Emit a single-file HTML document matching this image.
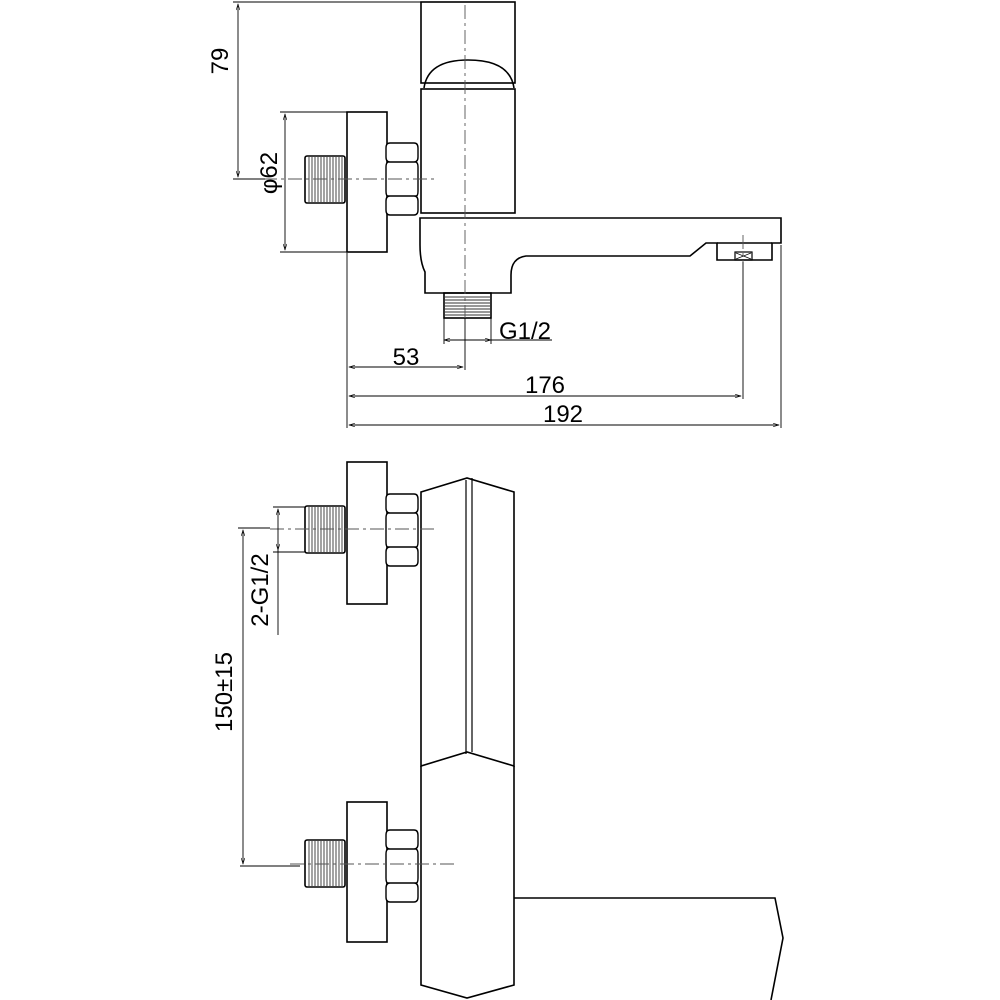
<!DOCTYPE html>
<html><head><meta charset="utf-8"><style>html,body{margin:0;padding:0;background:#fff}svg{display:block}text{font-family:"Liberation Sans",sans-serif;fill:#000}</style></head><body>
<svg width="1000" height="1000" viewBox="0 0 1000 1000" xmlns="http://www.w3.org/2000/svg">
<defs>
<marker id="a" viewBox="0 0 10 6" refX="10" refY="3" markerWidth="8" markerHeight="4" orient="auto-start-reverse"><path d="M0,0 L10,3 L0,6" fill="none" stroke="#000" stroke-width="1"/></marker>
<g id="thread">
<rect x="0" y="0" width="40" height="47" fill="none" stroke="#000" stroke-width="1.6" rx="2"/>
<path d="M4,1V46M7,1V46M10,1V46M13,1V46M16,1V46M19,1V46M22,1V46M25,1V46M28,1V46M31,1V46M34,1V46M37,1V46" stroke="#333" stroke-width="0.9"/>
</g>
<g id="nut">
<path d="M4,0 H28 Q32,0 32,5 V14 Q32,19 28,19 H4 Q0,19 0,14 V5 Q0,0 4,0Z M2,19 H30 Q32,20 32,24 V48 Q32,53 30,53 H2 Q0,53 0,48 V24 Q0,20 2,19Z M4,53 H28 Q32,53 32,58 V67 Q32,72 28,72 H4 Q0,72 0,67 V58 Q0,53 4,53Z" fill="#fff" stroke="#000" stroke-width="1.4"/>
</g>
</defs>
<g fill="none" stroke="#000" stroke-width="1.6">
<rect x="421" y="2" width="94" height="81" fill="#fff"/>
<path d="M424,88 Q428,60 468,60 Q510,60 514,88"/>
<rect x="421" y="89" width="94" height="124" fill="#fff"/>
<path d="M420,218 H781 V243 H772 V260 H717 V243 H706 L690,256 H526 Q511,258 511,275 V293 H425 V272 Q420,262 420,245 Z"/>
<path d="M717,243 H772"/>
<rect x="735" y="252" width="17" height="8" stroke-width="1.2"/>
<path d="M736,253 L751,259 M736,259 L751,253" stroke-width="0.7"/>
<rect x="347" y="112" width="40" height="140" fill="#fff"/>
<use href="#nut" x="386" y="143"/>
<use href="#thread" x="305" y="156"/>
<g transform="translate(444,293)">
<rect x="0" y="0" width="47" height="25" stroke-width="1.6"/>
<path d="M1,4H46M1,7H46M1,10H46M1,13H46M1,16H46M1,19H46M1,22H46" stroke-width="0.9" stroke="#333"/>
</g>
<path d="M421,492 L467,478 L514,492 V766 L467,752 L421,766 Z" fill="#fff"/>
<path d="M421,766 V985 L467,998 L514,985 V766"/>
<path d="M466,480 V754 M472,478 V752" stroke-width="1.2"/>
<path d="M514,898 H775 L783,938 L771,1000"/>
<rect x="347" y="462" width="40" height="142" fill="#fff"/>
<use href="#nut" x="386" y="494"/>
<use href="#thread" x="305" y="506"/>
<rect x="347" y="802" width="40" height="140" fill="#fff"/>
<use href="#nut" x="386" y="830"/>
<use href="#thread" x="305" y="840"/>
</g>
<g stroke="#555" stroke-width="0.9" fill="none" stroke-dasharray="14,4,3,4">
<path d="M465,5 V318"/>
<path d="M238,179 H436"/>
<path d="M743,235 V262"/>
<path d="M270,529 H436"/>
<path d="M290,864 H455"/>
</g>
<g stroke="#000" stroke-width="0.9" fill="none">
<path d="M233,2 H421 M233,179 H265"/>
<path d="M238,4 V177" marker-start="url(#a)" marker-end="url(#a)"/>
<path d="M280,112 H347 M280,252 H347"/>
<path d="M285,114 V250" marker-start="url(#a)" marker-end="url(#a)"/>
<path d="M347,253 V428 M743,262 V399 M781,245 V428 M465,318 V370 M444,318 V344 M491,318 V344"/>
<path d="M444,340 H491" marker-start="url(#a)" marker-end="url(#a)"/>
<path d="M491,340 H552"/>
<path d="M349,367 H463" marker-start="url(#a)" marker-end="url(#a)"/>
<path d="M349,396 H741" marker-start="url(#a)" marker-end="url(#a)"/>
<path d="M349,425 H779" marker-start="url(#a)" marker-end="url(#a)"/>
<path d="M238,528 H270 M240,866 H300 M273,507 H306 M273,552 H306"/>
<path d="M243,530 V864" marker-start="url(#a)" marker-end="url(#a)"/>
<path d="M278,509 V550" marker-start="url(#a)" marker-end="url(#a)"/>
<path d="M278,550 V635"/>
</g>
<g font-size="24">
<text x="237" y="70" text-anchor="middle" transform="rotate(-90 228 70)">79</text>
<text x="286" y="182" text-anchor="middle" transform="rotate(-90 277 182)">φ62</text>
<text x="525" y="339" text-anchor="middle">G1/2</text>
<text x="406" y="365" text-anchor="middle">53</text>
<text x="545" y="393" text-anchor="middle">176</text>
<text x="563" y="422" text-anchor="middle">192</text>
<text x="240" y="700" text-anchor="middle" transform="rotate(-90 232 700)">150±15</text>
<text x="276" y="598" text-anchor="middle" transform="rotate(-90 268 598)">2-G1/2</text>
</g>
</svg>
</body></html>
